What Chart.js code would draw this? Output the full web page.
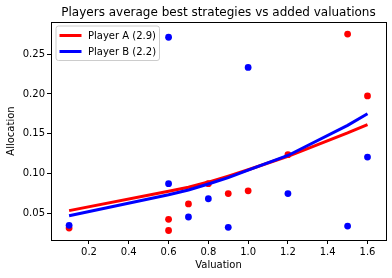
<!DOCTYPE html>
<html>
<head>
<meta charset="utf-8">
<script src="https://cdn.jsdelivr.net/npm/chart.js@4/dist/chart.umd.min.js"></script>
<style>
  html, body { margin: 0; padding: 0; background: #fff; }
  #wrap { width: 392px; height: 278px; position: relative; }
</style>
</head>
<body>
<div id="wrap"><canvas id="c" width="392" height="278"></canvas></div>
<script>
// ---- data ----
const valuations = [0.1, 0.6, 0.6, 0.7, 0.8, 0.9, 1.0, 1.2, 1.5, 1.6];
const playerAPoints = [0.031, 0.042, 0.028, 0.0615, 0.087, 0.0745, 0.078, 0.1235, 0.2755, 0.1975];
const playerBPoints = [0.0345, 0.087, 0.2715, 0.045, 0.068, 0.032, 0.2335, 0.0745, 0.0335, 0.1205];

const fitValuations = [0.1, 0.6, 0.7, 0.8, 0.9, 1.0, 1.2, 1.5, 1.6];
const playerAFit = [0.053, 0.0775, 0.0825, 0.089, 0.0965, 0.1045, 0.1215, 0.151, 0.1615];
const playerBFit = [0.0465, 0.073, 0.079, 0.0865, 0.0945, 0.104, 0.1225, 0.1605, 0.175];

const titleText = 'Players average best strategies vs added valuations';
const seriesLabels = ['Player A (2.9)', 'Player B (2.2)'];
const xTicks = [0.2, 0.4, 0.6, 0.8, 1.0, 1.2, 1.4, 1.6];
const yTicks = [0.05, 0.10, 0.15, 0.20, 0.25];

const RED = '#ff0000', BLUE = '#0000ff';
const FONT = 'DejaVu Sans';

function pts(xs, ys) { return xs.map((x, i) => ({ x: x, y: ys[i] })); }

const framePlugin = {
  id: 'frame',
  afterDatasetsDraw(chart) {
    const { ctx, chartArea: a } = chart;
    ctx.save();
    ctx.strokeStyle = '#000';
    ctx.lineWidth = 1;
    ctx.strokeRect(Math.round(a.left) + 0.5, Math.round(a.top) + 0.5,
                   Math.round(a.right - a.left), Math.round(a.bottom - a.top));
    ctx.restore();
  }
};

// title centred over the plot area (as matplotlib does)
const axesTitlePlugin = {
  id: 'axesTitle',
  afterDraw(chart) {
    const { ctx, chartArea: a } = chart;
    ctx.save();
    ctx.font = '12px "' + FONT + '"';
    ctx.fillStyle = '#000';
    ctx.textAlign = 'center';
    ctx.textBaseline = 'middle';
    ctx.fillText(titleText, (a.left + a.right) / 2, 13);
    ctx.restore();
  }
};

const legendPlugin = {
  id: 'insideLegend',
  afterDraw(chart) {
    const { ctx, chartArea: a } = chart;
    const items = [
      { label: seriesLabels[0], color: RED },
      { label: seriesLabels[1], color: BLUE }
    ];
    const x0 = a.left + 5, y0 = a.top + 4, w = 103.5, h = 34.5;
    ctx.save();
    ctx.beginPath();
    const r = 2.5;
    ctx.moveTo(x0 + r, y0);
    ctx.lineTo(x0 + w - r, y0); ctx.quadraticCurveTo(x0 + w, y0, x0 + w, y0 + r);
    ctx.lineTo(x0 + w, y0 + h - r); ctx.quadraticCurveTo(x0 + w, y0 + h, x0 + w - r, y0 + h);
    ctx.lineTo(x0 + r, y0 + h); ctx.quadraticCurveTo(x0, y0 + h, x0, y0 + h - r);
    ctx.lineTo(x0, y0 + r); ctx.quadraticCurveTo(x0, y0, x0 + r, y0);
    ctx.closePath();
    ctx.fillStyle = 'rgba(255,255,255,0.8)';
    ctx.fill();
    ctx.strokeStyle = '#cccccc';
    ctx.lineWidth = 1;
    ctx.stroke();
    ctx.font = '10px "' + FONT + '"';
    ctx.textBaseline = 'middle';
    items.forEach((it, i) => {
      const yy = y0 + 9.5 + i * 16;
      ctx.strokeStyle = it.color;
      ctx.lineWidth = 3;
      ctx.beginPath();
      ctx.moveTo(x0 + 3.5, yy);
      ctx.lineTo(x0 + 25.5, yy);
      ctx.stroke();
      ctx.fillStyle = '#000';
      ctx.fillText(it.label, x0 + 32, yy + 0.5);
    });
    ctx.restore();
  }
};

new Chart(document.getElementById('c'), {
  type: 'scatter',
  data: {
    datasets: [
      { label: seriesLabels[1] + ' fit', data: pts(fitValuations, playerBFit), showLine: true,
        borderColor: BLUE, borderWidth: 3, pointRadius: 0, fill: false, tension: 0 },
      { label: seriesLabels[0] + ' fit', data: pts(fitValuations, playerAFit), showLine: true,
        borderColor: RED, borderWidth: 3, pointRadius: 0, fill: false, tension: 0 },
      { label: 'Player B', data: pts(valuations, playerBPoints), showLine: false,
        backgroundColor: BLUE, borderWidth: 0, pointRadius: 3.4 },
      { label: 'Player A', data: pts(valuations, playerAPoints), showLine: false,
        backgroundColor: RED, borderWidth: 0, pointRadius: 3.4 }
    ]
  },
  options: {
    responsive: false,
    animation: false,
    devicePixelRatio: 1,
    layout: { padding: { left: 0, right: 6, top: 22, bottom: 0 } },
    plugins: {
      legend: { display: false },
      tooltip: { enabled: false },
      title: { display: false }
    },
    scales: {
      x: {
        type: 'linear',
        min: 0.009,
        max: 1.693,
        afterBuildTicks(s) { s.ticks = xTicks.map(v => ({ value: v })); },
        afterFit(s) { s.height = 38; },
        grid: { display: true, drawOnChartArea: false, drawTicks: true, tickLength: 4, color: '#000' },
        border: { display: true, color: '#000', width: 1 },
        ticks: {
          color: '#000', padding: 2, maxRotation: 0,
          font: { family: FONT, size: 10 },
          callback: v => Number(v).toFixed(1)
        },
        title: {
          display: true, text: 'Valuation', color: '#000',
          font: { family: FONT, size: 10 }, padding: { top: 0, bottom: 7 }
        }
      },
      y: {
        type: 'linear',
        min: 0.016,
        max: 0.2907,
        afterBuildTicks(s) { s.ticks = yTicks.map(v => ({ value: v })); },
        afterFit(s) { s.width = 51; },
        grid: { display: true, drawOnChartArea: false, drawTicks: true, tickLength: 4, color: '#000' },
        border: { display: true, color: '#000', width: 1 },
        ticks: {
          color: '#000', padding: 2,
          font: { family: FONT, size: 10 },
          callback: v => Number(v).toFixed(2)
        },
        title: {
          display: true, text: 'Allocation', color: '#000',
          font: { family: FONT, size: 10 }, padding: { top: 5, bottom: 0 }
        }
      }
    }
  },
  plugins: [framePlugin, axesTitlePlugin, legendPlugin]
});
</script>
</body>
</html>
